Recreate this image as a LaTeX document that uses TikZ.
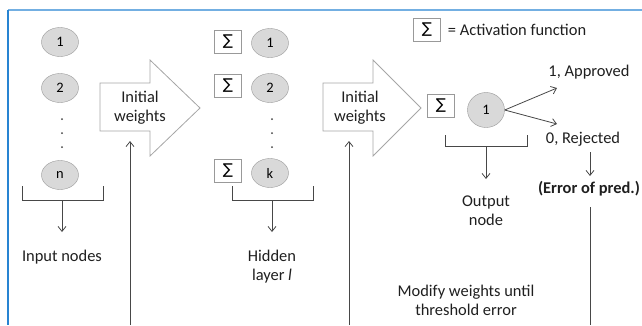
\documentclass[tikz,border=0pt]{standalone}
\usepackage{fontspec}
\setmainfont{Carlito}
\newfontfamily\symfont{DejaVu Sans}
\usetikzlibrary{positioning, arrows.meta, calc, shapes.geometric}

\definecolor{frameblue}{RGB}{40,132,210}
\definecolor{nodegray}{RGB}{217,217,217}

\begin{document}
\begin{tikzpicture}[x=1bp, y=-1bp,
		myline/.style={draw=black!72, line width=0.8bp},
		neuron/.style={ellipse, draw=black!40, fill=nodegray, minimum width=37bp, minimum height=29bp, inner sep=0pt, font=\fontsize{14.5}{16}\selectfont},
		actbox/.style={draw=black!40, minimum width=27bp, minimum height=23bp, inner sep=0pt, font=\symfont\fontsize{15}{16}\selectfont},
		dotmark/.style={circle, fill=black!75, inner sep=0pt, minimum size=2bp},
		lbl/.style={font=\fontsize{16.5}{19}\selectfont, align=center, text=black!88, inner sep=0pt},
		bigarrow/.style={draw=black!35, fill=white, line width=0.8bp},
		>={Straight Barb[length=5bp, width=8bp]}]
		
		\useasboundingbox (0,0) rectangle (642,325);
		
		% frame
		\draw [frameblue!65, line width=1.5bp] (8,10) -- (642,10);
		\draw [frameblue, line width=2bp] (8,10) -- (8,325);
		
		% input layer
		\node[neuron] at (60,42)  (in1) {1};
		\node[neuron] at (60,88)  (in2) {2};
		\node[dotmark] at (62,119) (indot1) {};
		\node[dotmark] at (62,133) (indot2) {};
		\node[dotmark] at (62,147) (indot3) {};
		\node[neuron] at (60,175) (inn) {n};
		\node[lbl] at (62,257) (inlbl) {Input nodes};
		
		\draw[myline]  (22,186)|-(103,200)--(103,186);
		\coordinate (inb) at (62,200);
		\coordinate (inend) at (62,232);
		\draw[myline, ->]  (inb)--(inend);
		
		% first weights arrow
		\draw[bigarrow] (100,83)--(150,83)--(150,60)--(200,108)--(150,156)--(150,131)--(100,131)--cycle;
		\node[lbl] at (140,108) (w1) {Initial\\weights};
		\coordinate (fb1) at (130,325);
		\coordinate (up1) at (130,141);
		\draw[myline, ->]  (fb1)--(up1);
		
		% hidden layer
		\node[actbox] at (228,42)  (s1) {∑};
		\node[actbox] at (228,86)  (s2) {∑};
		\node[actbox] at (228,171) (sk) {∑};
		\node[neuron] at (270,43)  (h1) {1};
		\node[neuron] at (270,88)  (h2) {2};
		\node[dotmark] at (272,119) (hdot1) {};
		\node[dotmark] at (272,133) (hdot2) {};
		\node[dotmark] at (272,147) (hdot3) {};
		\node[neuron] at (270,173) (hk) {k};
		\node[lbl] at (272,267) (hidlbl) {Hidden\\layer \textit{l}};
		
		\draw[myline]  (232,186)|-(313,200)--(313,186);
		\coordinate (hidb) at (272,200);
		\coordinate (hidend) at (272,232);
		\draw[myline, ->]  (hidb)--(hidend);
		
		% second weights arrow
		\draw[bigarrow] (323,83)--(373,83)--(373,60)--(421,108)--(373,156)--(373,131)--(323,131)--cycle;
		\node[lbl] at (360,108) (w2) {Initial\\weights};
		\coordinate (fb2) at (349,325);
		\coordinate (up2) at (349,141);
		\draw[myline, ->]  (fb2)--(up2);
		
		% output layer
		\node[actbox] at (441,106) (sout) {∑};
		\node[neuron, minimum width=37bp, minimum height=35bp] at (486,110) (out1) {1};
		\node[lbl] at (486,211) (outlbl) {Output\\node};
		
		\draw[myline]  (445,135)|-(527,146)--(527,135);
		\coordinate (outb) at (486,146);
		\coordinate (outend) at (486,179);
		\draw[myline, ->]  (outb)--(outend);
		
		% decisions
		\node[lbl] at (589,72)  (appr) {1, Approved};
		\node[lbl] at (583,139) (rej) {0, Rejected};
		\coordinate (tipA) at (557,88);
		\coordinate (tipR) at (557,124);
		\draw[myline, ->]  (out1.east)--(tipA);
		\draw[myline, ->]  (out1.east)--(tipR);
		
		\node[lbl, font=\fontsize{16.5}{19}\selectfont\bfseries] at (589,189) (err) {(Error of pred.)};
		\coordinate (e1) at (590,152);
		\coordinate (e2) at (590,176);
		\coordinate (e3) at (590,207);
		\coordinate (e4) at (590,325);
		\draw[myline, ->]  (e1)--(e2);
		\draw[myline]  (e3)--(e4);
		
		\node[lbl] at (466,300) (modify) {Modify weights until\\threshold error};
		
		% legend
		\node[actbox] at (427,30) (legbox) {∑};
		\node[lbl, right=7bp of legbox] (legtxt) {= Activation function};
	\end{tikzpicture}
\end{document}
